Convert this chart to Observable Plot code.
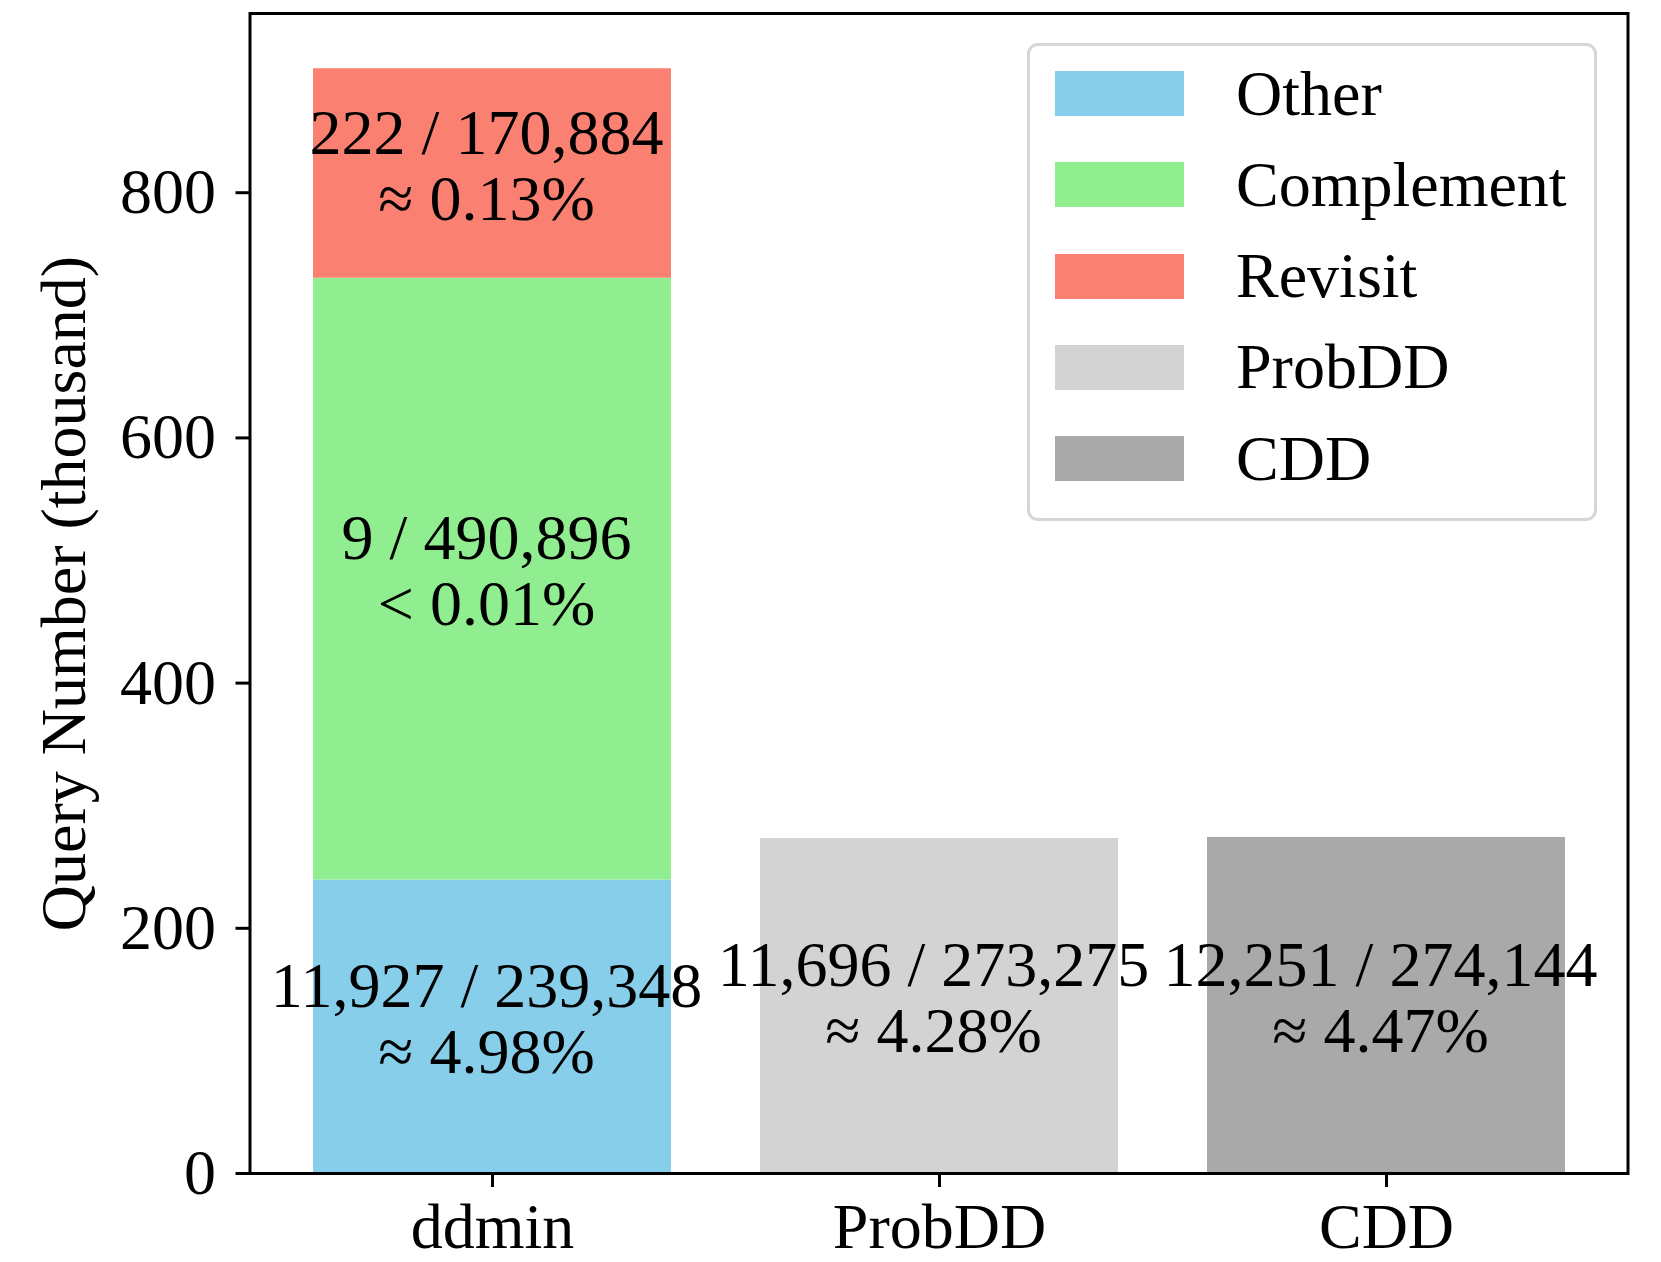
<!DOCTYPE html>
<html>
<head>
<meta charset="utf-8">
<script src="https://cdn.jsdelivr.net/npm/d3@7"></script>
<script src="https://cdn.jsdelivr.net/npm/@observablehq/plot@0.6"></script>
<style>
  html, body { margin: 0; padding: 0; background: #fff; }
  #wrap { position: relative; width: 1661px; height: 1262px; }
  #legend {
    position: absolute; left: 1027px; top: 43px; width: 570px; height: 478px;
    box-sizing: border-box; border: 3px solid #d6d6d6; border-radius: 11px;
    background: rgba(255,255,255,0.85);
    font-family: "Liberation Serif", "Times New Roman", serif; font-size: 64px; color: #000;
  }
  .item { position: absolute; left: 25px; height: 45px; display: flex; align-items: center; }
  .sw { width: 129px; height: 45px; flex: none; }
  .lab { margin-left: 52px; white-space: nowrap; }
</style>
</head>
<body>
<div id="wrap"></div>
<script>
// ---- data ----
const categories = ["ddmin", "ProbDD", "CDD"];
const segments = ["Other", "Complement", "Revisit", "ProbDD", "CDD"];
const segmentColors = ["#87CEEB", "#90EE90", "#FA8072", "#D3D3D3", "#A9A9A9"];
const segmentBar = ["ddmin", "ddmin", "ddmin", "ProbDD", "CDD"];
const totals = [239348, 490896, 170884, 273275, 274144];
const hits = [11927, 9, 222, 11696, 12251];
const ratioLabels = ["≈ 4.98%", "< 0.01%", "≈ 0.13%", "≈ 4.28%", "≈ 4.47%"];
const yTicks = [0, 200, 400, 600, 800];

const fmt = d3.format(",");
const rows = segments.map((s, i) => ({
  method: segmentBar[i],
  segment: s,
  value: totals[i] / 1000,
  label: `${fmt(hits[i])} / ${fmt(totals[i])}\n${ratioLabels[i]}`
}));

const ddminTotal = d3.sum(rows.filter(r => r.method === "ddmin"), r => r.value);
const yMax = d3.max([ddminTotal, ...rows.map(r => r.value)]) * 1.05;

const chart = Plot.plot({
  width: 1661,
  height: 1262,
  marginLeft: 249.5,
  marginRight: 33.5,
  marginTop: 13,
  marginBottom: 89,
  style: { fontFamily: "Liberation Serif, Times New Roman, serif", fontSize: "64px", color: "black", background: "white" },
  x: { domain: categories, paddingInner: 0.2, paddingOuter: 0.14, label: null },
  y: { domain: [0, yMax], label: null },
  color: { domain: segments, range: segmentColors },
  marks: [
    Plot.barY(rows, { x: "method", y: "value", fill: "segment" }),
    Plot.text(rows, Plot.stackY({ x: "method", y: "value", text: "label", fontSize: 64, lineHeight: 1.035, dy: -8, dx: -6, fill: "black" })),
    Plot.frame({ stroke: "black", strokeWidth: 3 }),
    Plot.axisY({ ticks: yTicks, tickSize: 14, tickPadding: 20, strokeWidth: 3, fontSize: 64,
      label: "Query Number (thousand)", labelAnchor: "center", labelOffset: 210, labelArrow: "none" }),
    Plot.axisX({ tickSize: 14, tickPadding: 15, strokeWidth: 3, fontSize: 64, label: null })
  ]
});

const wrap = document.getElementById("wrap");
wrap.appendChild(chart);

// legend (HTML overlay inside the axes)
const legend = document.createElement("div");
legend.id = "legend";
segments.forEach((s, i) => {
  const item = document.createElement("div");
  item.className = "item";
  item.style.top = (25 + i * 91.3) + "px";
  const sw = document.createElement("div");
  sw.className = "sw";
  sw.style.background = segmentColors[i];
  const lab = document.createElement("span");
  lab.className = "lab";
  lab.textContent = s;
  item.appendChild(sw);
  item.appendChild(lab);
  legend.appendChild(item);
});
wrap.appendChild(legend);
</script>
</body>
</html>
